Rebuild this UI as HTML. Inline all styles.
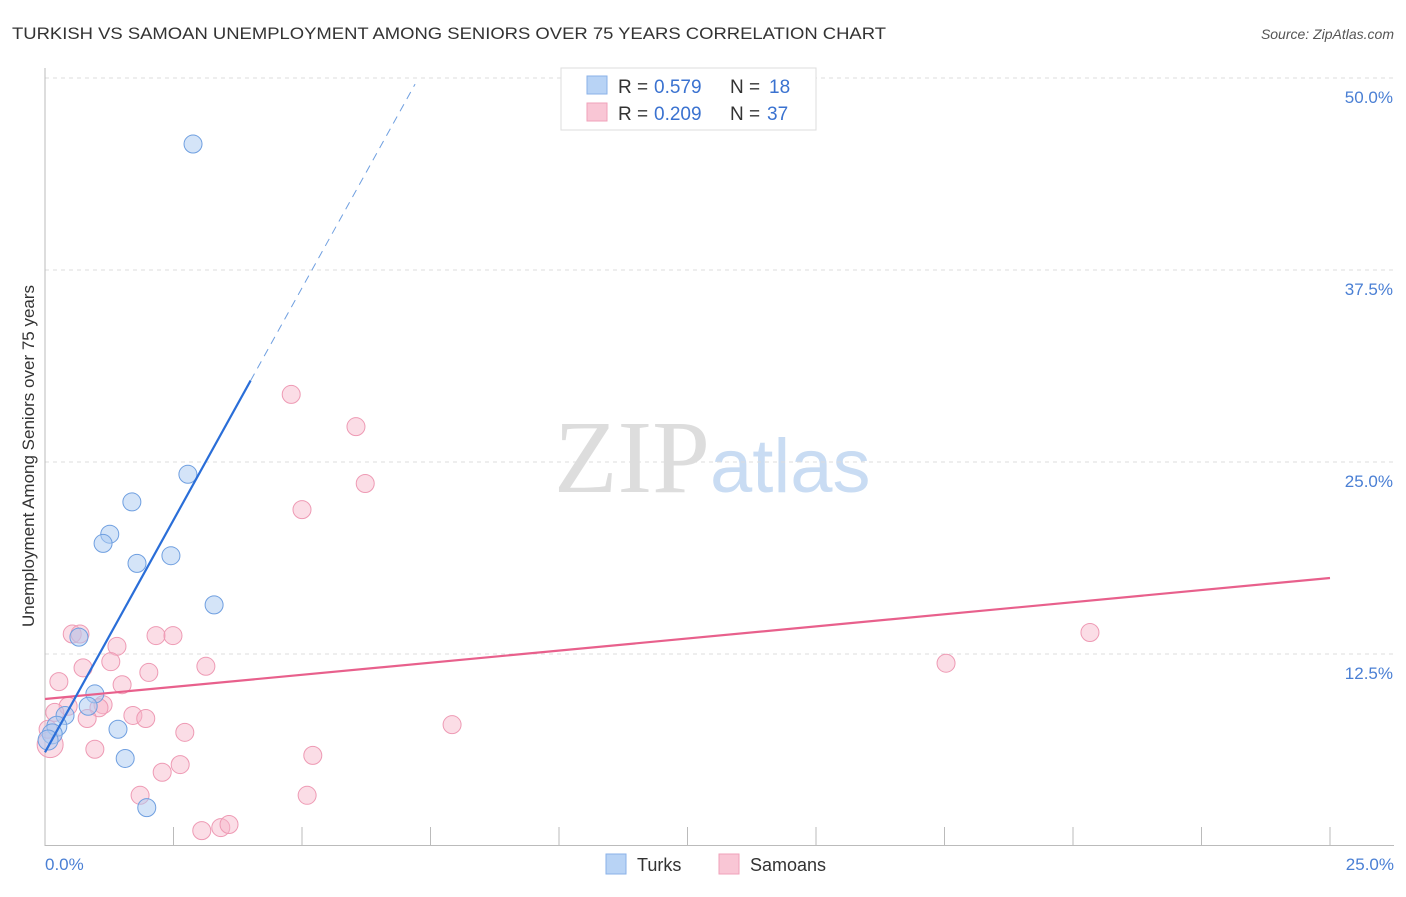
<!DOCTYPE html>
<html><head><meta charset="utf-8"><style>
body{margin:0;background:#fff;font-family:"Liberation Sans",sans-serif}
</style></head><body>
<svg width="1406" height="892" xmlns="http://www.w3.org/2000/svg" font-family="Liberation Sans, sans-serif">
<text x="12" y="39" font-size="17" fill="#333" textLength="874" lengthAdjust="spacingAndGlyphs">TURKISH VS SAMOAN UNEMPLOYMENT AMONG SENIORS OVER 75 YEARS CORRELATION CHART</text>
<text x="1394" y="39" font-size="14" fill="#555" text-anchor="end" font-style="italic">Source: ZipAtlas.com</text>
<text x="554" y="492" font-size="104" fill="#ddd" font-family="Liberation Serif, serif">ZIP<tspan fill="#c9dcf3" font-family="Liberation Sans, sans-serif" font-size="76">atlas</tspan></text>
<g id="grid"></g>
<line x1="45" y1="68" x2="45" y2="846" stroke="#bbb"/>
<line x1="45" y1="845.5" x2="1394" y2="845.5" stroke="#bbb"/>
<text transform="translate(34,456) rotate(-90)" font-size="17" fill="#333" text-anchor="middle">Unemployment Among Seniors over 75 years</text>
<text x="45" y="870" font-size="17" fill="#4a7fd4">0.0%</text>
<text x="1394" y="870" font-size="17" fill="#4a7fd4" text-anchor="end">25.0%</text>
<g id="marks"></g>
<g>
<rect x="561" y="68" width="255" height="62" fill="#fff" stroke="#ddd"/>
<rect x="587" y="76" width="20" height="18" fill="#b8d3f5" stroke="#8ab2e8"/>
<rect x="587" y="103" width="20" height="18" fill="#f9c6d5" stroke="#f0a2ba"/>
<text x="618" y="93" font-size="19" fill="#333">R =</text>
<text x="654" y="93" font-size="19" fill="#3a72d0">0.579</text>
<text x="730" y="93" font-size="19" fill="#333">N =</text>
<text x="769" y="93" font-size="19" fill="#3a72d0">18</text>
<text x="618" y="120" font-size="19" fill="#333">R =</text>
<text x="654" y="120" font-size="19" fill="#3a72d0">0.209</text>
<text x="730" y="120" font-size="19" fill="#333">N =</text>
<text x="767" y="120" font-size="19" fill="#3a72d0">37</text>
</g>
<g>
<rect x="606" y="854" width="20" height="20" fill="#b8d3f5" stroke="#8ab2e8"/>
<text x="637" y="871" font-size="18" fill="#333">Turks</text>
<rect x="719" y="854" width="20" height="20" fill="#f9c6d5" stroke="#f0a2ba"/>
<text x="750" y="871" font-size="18" fill="#333">Samoans</text>
</g>
</svg>
<script>
const yTicks=[12.5,25,37.5,50];
const yTickLabels=["12.5%","25.0%","37.5%","50.0%"];
const xTicks=[0,2.5,5,7.5,10,12.5,15,17.5,20,22.5,25];
const turksX=[2.88,2.78,1.69,1.26,1.13,1.79,2.45,3.29,0.66,0.97,0.84,0.39,0.23,0.14,1.42,1.56,1.98,0.06];
const turksY=[45.7,24.2,22.4,20.3,19.7,18.4,18.9,15.7,13.6,9.9,9.1,8.5,7.8,7.3,7.6,5.7,2.5,6.9];
const samoaX=[4.79,6.05,6.23,5.00,20.33,17.53,7.92,0.53,0.68,1.40,2.16,2.49,1.28,0.74,2.02,3.13,1.50,0.27,0.45,1.13,1.05,1.71,1.96,0.82,2.72,0.97,5.21,2.63,2.28,1.85,5.10,3.05,3.42,3.58,0.10,0.06,0.19];
const samoaY=[29.4,27.3,23.6,21.9,13.9,11.9,7.9,13.8,13.8,13.0,13.7,13.7,12.0,11.6,11.3,11.7,10.5,10.7,9.1,9.2,9.0,8.5,8.3,8.3,7.4,6.3,5.9,5.3,4.8,3.3,3.3,1.0,1.2,1.4,6.6,7.6,8.7];
const turksLine=[[0,6.1],[4.0,30.3]];
const turksDash=[[4.0,30.3],[7.2,49.6]];
const samoaLine=[[0,9.57],[25,17.45]];
const NS="http://www.w3.org/2000/svg";
const sx=v=>45+v*51.4, sy=v=>846-v*15.36;
function mk(t,a,p){const e=document.createElementNS(NS,t);for(const k in a)e.setAttribute(k,a[k]);p.appendChild(e);return e;}
const grid=document.getElementById('grid'), marks=document.getElementById('marks');
yTicks.forEach((v,i)=>{
 const l=mk('line',{x1:45,x2:1394,y1:sy(v),y2:sy(v),stroke:'#ddd','stroke-dasharray':'4,4'},grid);
 
 
 const t=mk('text',{x:1393,y:sy(v)+25,'font-size':17,fill:'#4a7fd4','text-anchor':'end'},grid);
 t.textContent=yTickLabels[i];
 
 
});
xTicks.forEach(v=>{
 const l=mk('line',{x1:sx(v),x2:sx(v),y1:827,y2:846,stroke:'#bbb'},grid);
 
 
});
samoaX.forEach((x,i)=>{
 const c=mk('circle',{cx:sx(x),cy:sy(samoaY[i]),r:i==34?13:9,fill:'#f6b3c8','fill-opacity':0.45,stroke:'#ee9ab4','stroke-width':1},marks);
 
 
});
turksX.forEach((x,i)=>{
 const c=mk('circle',{cx:sx(x),cy:sy(turksY[i]),r:i>=12&&i!=14&&i!=15&&i!=16?10:9,fill:'#a9c9f2','fill-opacity':0.5,stroke:'#6f9fe0','stroke-width':1},marks);
 
 
});
let l1=mk('line',{x1:sx(samoaLine[0][0]),y1:sy(samoaLine[0][1]),x2:sx(samoaLine[1][0]),y2:sy(samoaLine[1][1]),stroke:'#e8608c','stroke-width':2.2},marks);


let l2=mk('line',{x1:sx(turksLine[0][0]),y1:sy(turksLine[0][1]),x2:sx(turksLine[1][0]),y2:sy(turksLine[1][1]),stroke:'#2a6ed8','stroke-width':2.2},marks);


let l3=mk('line',{x1:sx(turksDash[0][0]),y1:sy(turksDash[0][1]),x2:sx(turksDash[1][0]),y2:sy(turksDash[1][1]),stroke:'#6f9fe0','stroke-width':1,'stroke-dasharray':'8,6'},marks);


</script>
</body></html>
